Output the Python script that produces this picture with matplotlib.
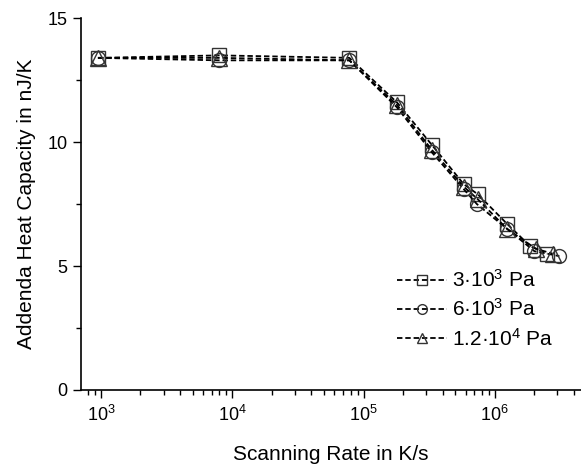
import matplotlib
matplotlib.use("Agg")
import matplotlib.pyplot as plt
from matplotlib.ticker import MultipleLocator, LogLocator, NullFormatter

plt.rcParams['font.family'] = ['Liberation Sans', 'DejaVu Sans']
plt.rcParams['mathtext.default'] = 'regular'

# data
rate_sq = [950, 8.0e3, 7.8e4, 1.8e5, 3.3e5, 5.8e5, 7.4e5, 1.24e6, 1.86e6, 2.5e6]
rate_ci = [950, 8.0e3, 7.8e4, 1.8e5, 3.3e5, 5.8e5, 7.3e5, 1.24e6, 2.0e6, 3.1e6]
rate_tr = [950, 8.0e3, 7.8e4, 1.8e5, 3.3e5, 5.8e5, 7.4e5, 1.24e6, 2.05e6, 2.75e6]

cap_sq = [13.4, 13.5, 13.4, 11.6, 9.9, 8.3, 7.9, 6.7, 5.8, 5.5]
cap_ci = [13.4, 13.3, 13.3, 11.4, 9.6, 8.1, 7.5, 6.5, 5.6, 5.4]
cap_tr = [13.4, 13.4, 13.3, 11.5, 9.7, 8.2, 7.7, 6.5, 5.7, 5.5]

labels = ['3·10$^3$ Pa', '6·10$^3$ Pa', '1.2·10$^4$ Pa']

fig = plt.figure(figsize=(5.81, 4.67), dpi=100)
ax = fig.add_axes([0.139, 0.165, 0.861, 0.796])

style = dict(color='black', linestyle='--', dashes=(3, 1.6), linewidth=1.3,
             markerfacecolor='none', markeredgecolor='#333333', markeredgewidth=1.0)
ax.plot(rate_sq, cap_sq, marker='s', markersize=9.5, label=labels[0], **style)
ax.plot(rate_ci, cap_ci, marker='o', markersize=10, label=labels[1], **style)
ax.plot(rate_tr, cap_tr, marker='^', markersize=11, label=labels[2], **style)

ax.set_xscale('log')
ax.set_xlim(703, 4.53e6)
ax.set_ylim(0, 15)

ax.yaxis.set_major_locator(MultipleLocator(5))
ax.yaxis.set_minor_locator(MultipleLocator(2.5))
ax.xaxis.set_major_locator(LogLocator(base=10, numticks=10))
ax.xaxis.set_minor_locator(LogLocator(base=10, subs=range(2, 10), numticks=20))
ax.xaxis.set_minor_formatter(NullFormatter())

for s in ['top', 'right']:
    ax.spines[s].set_visible(False)
for s in ['left', 'bottom']:
    ax.spines[s].set_linewidth(1.2)

ax.tick_params(which='major', direction='out', length=6, width=1, labelsize=13)
ax.tick_params(which='minor', direction='out', length=3.5, width=1)
ax.tick_params(axis='x', which='major', pad=5)

ax.set_xlabel('Scanning Rate in K/s', fontsize=15, labelpad=14)
ax.set_ylabel('Addenda Heat Capacity in nJ/K', fontsize=15, labelpad=8)

ax.legend(loc='upper left', bbox_to_anchor=(0.632, 0.325), frameon=False, fontsize=15,
          handlelength=2.4, handletextpad=0.25, labelspacing=0.35, borderaxespad=0.0,
          borderpad=0.0, markerscale=0.7)

fig.savefig('out.png', dpi=100)
